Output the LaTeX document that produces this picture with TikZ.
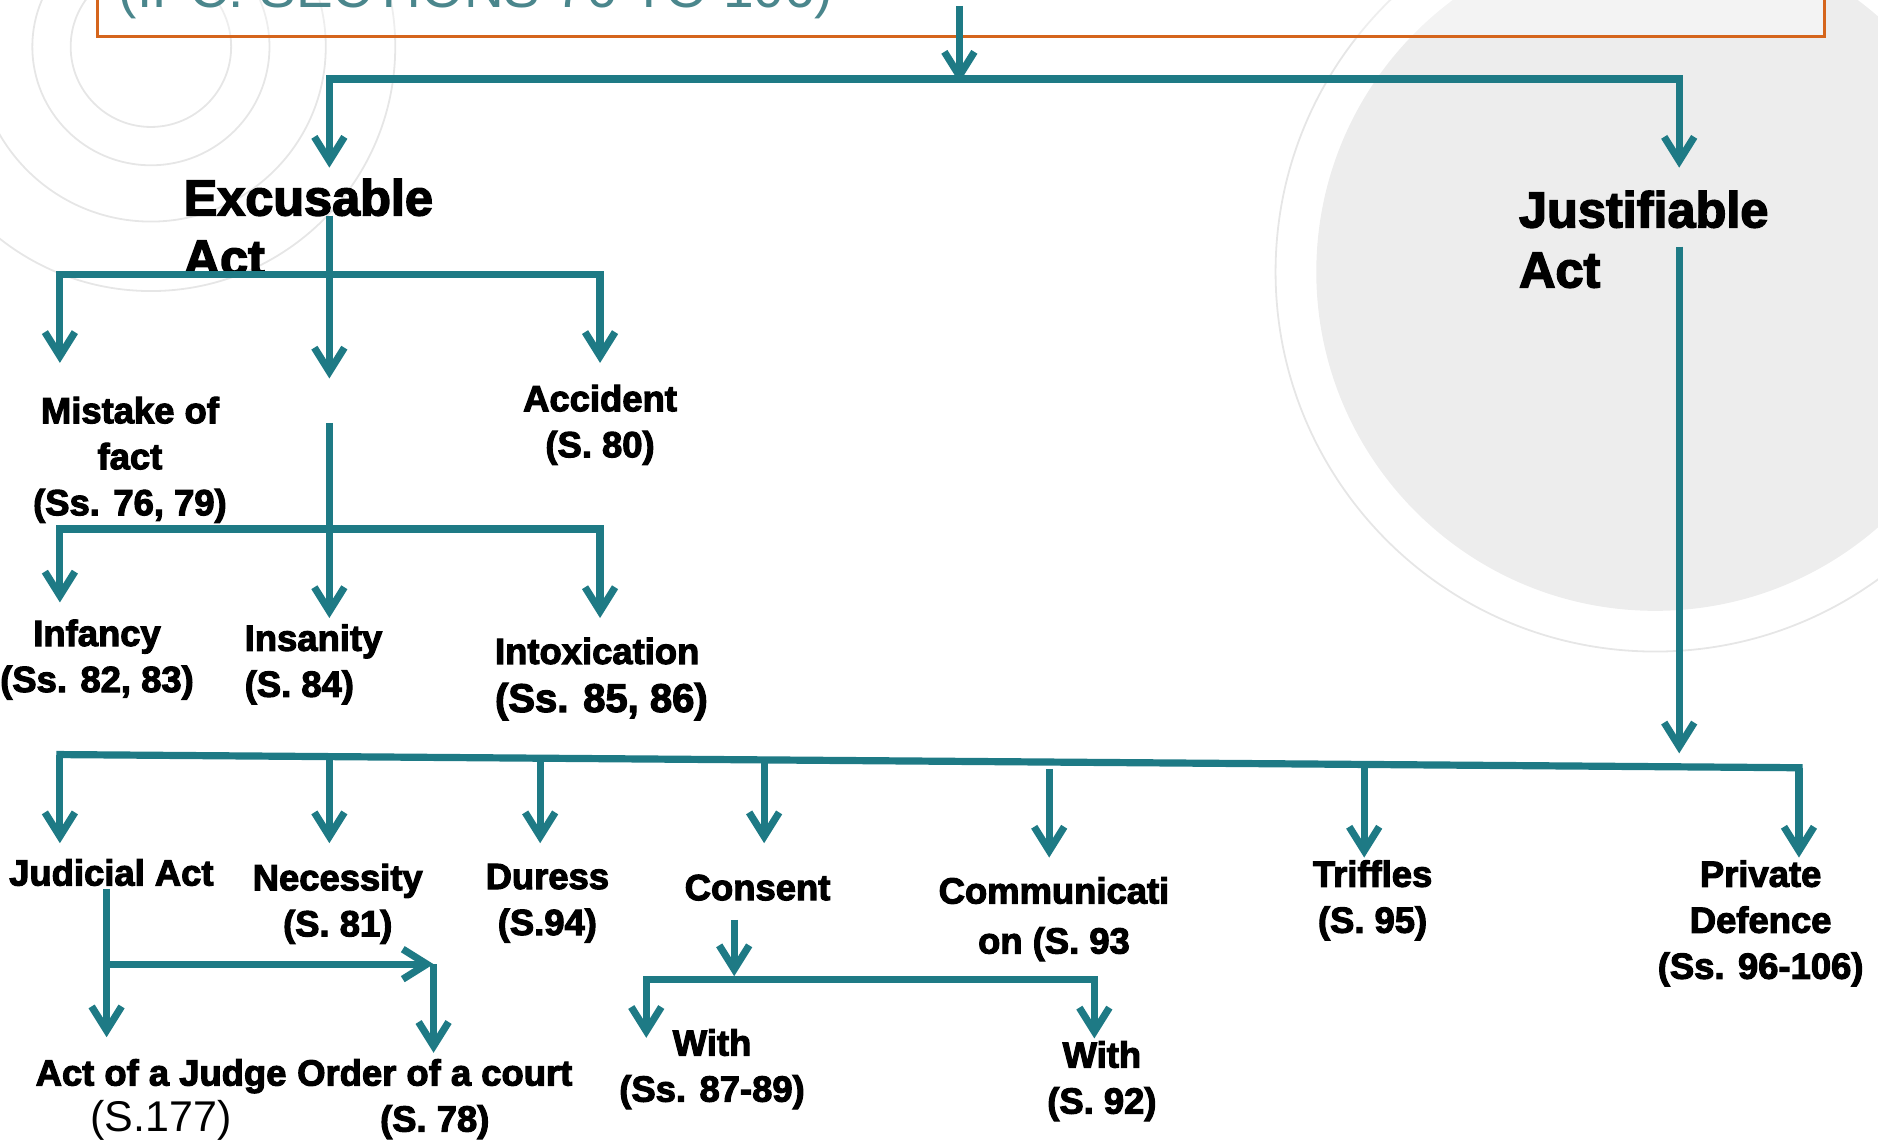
\documentclass[tikz,border=0pt]{standalone}
\usepackage{fontspec}
\setmainfont{Liberation Sans}
\newfontfamily\heavyfont{Liberation Sans Bold}[FakeBold=3]
\usetikzlibrary{arrows.meta,positioning}

\definecolor{lawteal}{RGB}{30,122,133}
\definecolor{laworange}{RGB}{213,101,28}
\definecolor{titlegray}{RGB}{74,134,140}
\definecolor{ringgray}{RGB}{230,230,230}
\definecolor{discgray}{RGB}{237,237,237}

\begin{document}
\begin{tikzpicture}[x=0.59885pt,y=-0.59885pt,
  link/.style={draw=lawteal,line width=3.6pt,-{Straight Barb[length=12pt,width=15pt]}},
  bar/.style={draw=lawteal,line width=3.6pt,line cap=rect},
  head/.style={font=\heavyfont\fontsize{25.2}{30}\selectfont,inner sep=0pt,
    align=left,anchor=north west},
  leaf/.style={font=\heavyfont\fontsize{18.2}{23}\selectfont,inner sep=0pt,
    align=center,anchor=north},
  ring/.style={draw=ringgray,line width=0.9pt}]
 \useasboundingbox (0,0) rectangle (1568,953);

 % background decoration
 \fill[discgray] (1382,227) circle[radius=283];
 \draw[ring] (1382,227) circle[radius=317];
 \draw[ring] (126,39) circle[radius=67];
 \draw[ring] (126,39) circle[radius=99];
 \draw[ring] (126,39) circle[radius=146];
 \draw[ring] (126,39) circle[radius=204];

 % title box
 \node[draw=laworange,line width=1.5pt,fill=white,fill opacity=0.35,
   minimum width=863.5pt,minimum height=90pt,inner sep=0pt,
   anchor=south west] (titlebox) at (80,31.7) {};
 \node[font=\fontsize{27.5}{33}\selectfont,text=titlegray,inner sep=0pt,
   anchor=base west] (title) at (99,6.5) {(IPC: SECTIONS 76 TO 106)};

 % the two kinds of acts
 \node[head] (excusable) at (153,149) {Excusable\\Act};
 \node[head] (justifiable) at (1268,159) {Justifiable\\Act};

 % excusable side
 \node[leaf] (mistake) at (108.5,331) {Mistake of\\fact\\(Ss. 76, 79)};
 \node[leaf] (accident) at (501,321) {Accident\\(S. 80)};
 \node[leaf] (infancy) at (81,517) {Infancy\\(Ss. 82, 83)};
 \node[leaf,align=left,anchor=north west] (insanity) at (204,521) {Insanity\\(S. 84)};
 \node[leaf,align=left,anchor=north west] (intoxication) at (413,532)
   {Intoxication\\[1pt]{\fontsize{20}{24}\selectfont(Ss. 85, 86)}};

 % general exceptions row
 \node[leaf] (judicial) at (93,717) {Judicial Act};
 \node[leaf] (necessity) at (282,721) {Necessity\\(S. 81)};
 \node[leaf] (duress) at (457,721) {Duress\\(S.94)};
 \node[leaf] (consent) at (632.5,730) {Consent};
 \node[leaf,font=\heavyfont\fontsize{18.2}{25}\selectfont] (communication) at (880,732)
   {Communicati\\on (S. 93};
 \node[leaf] (triffles) at (1146,718) {Triffles\\(S. 95)};
 \node[leaf] (private) at (1470,718) {Private\\Defence\\(Ss. 96-106)};

 \node[leaf] (judge) at (134.5,884)
   {Act of a Judge\\{\normalfont\fontsize{21.5}{23}\selectfont(S.177)}};
 \node[leaf] (court) at (363,884) {Order of a court\\(S. 78)};
 \node[leaf] (withfirst) at (594.5,859) {With\\(Ss. 87-89)};
 \node[leaf] (withsecond) at (920,869) {With\\(S. 92)};

 % junction points
 \coordinate (boxdrop) at (801,5);
 \coordinate (splittip) at (801,69);
 \coordinate (excbar) at (275,66);
 \coordinate (jusbar) at (1402,66);
 \coordinate (exctip) at (275,140);
 \coordinate (justip) at (1402,140);

 \coordinate (excroot) at (275,180);
 \coordinate (excgap) at (275,316);
 \coordinate (mistakebar) at (50,229);
 \coordinate (accidentbar) at (501,229);
 \coordinate (mistaketip) at (50,303);
 \coordinate (accidenttip) at (501,303);

 \coordinate (insroot) at (275,353);
 \coordinate (insanitytip) at (275,516);
 \coordinate (infancybar) at (50,441.7);
 \coordinate (intoxbar) at (501,441.7);
 \coordinate (infancytip) at (50,503);
 \coordinate (intoxtip) at (501,516);

 \coordinate (jusroot) at (1402,206);
 \coordinate (jusfoot) at (1402,629);

 \coordinate (judicialbar) at (50,630);
 \coordinate (necessitybar) at (275,631.7);
 \coordinate (duressbar) at (451,633);
 \coordinate (consentbar) at (638,634.5);
 \coordinate (commbar) at (876,642);
 \coordinate (trifflesbar) at (1139,638.3);
 \coordinate (privatebar) at (1502,641);
 \coordinate (judicialtip) at (50,704);
 \coordinate (necessitytip) at (275,704);
 \coordinate (duresstip) at (451,704);
 \coordinate (consenttip) at (638,704);
 \coordinate (commtip) at (876,716);
 \coordinate (trifflestip) at (1139,716);
 \coordinate (privatetip) at (1502,716);

 \coordinate (judroot) at (89,742);
 \coordinate (judjoin) at (89,805);
 \coordinate (judgetip) at (89,866);
 \coordinate (courtcorner) at (362,805);
 \coordinate (courttip) at (362,879);

 \coordinate (conroot) at (613,768);
 \coordinate (conjoin) at (613,815);
 \coordinate (withfirstbar) at (539.6,817.5);
 \coordinate (withsecondbar) at (913.7,817.5);
 \coordinate (withfirsttip) at (539.6,866.5);
 \coordinate (withsecondtip) at (913.7,867);

 % connectors
 \draw[link] (boxdrop) -- (splittip);
 \draw[bar] (excbar) -- (jusbar);
 \draw[link] (excbar) -- (exctip);
 \draw[link] (jusbar) -- (justip);

 \draw[link] (excroot) -- (excgap);
 \draw[bar] (mistakebar) -- (accidentbar);
 \draw[link] (mistakebar) -- (mistaketip);
 \draw[link] (accidentbar) -- (accidenttip);

 \draw[link] (insroot) -- (insanitytip);
 \draw[bar] (infancybar) -- (intoxbar);
 \draw[link] (infancybar) -- (infancytip);
 \draw[link] (intoxbar) -- (intoxtip);

 \draw[link] (jusroot) -- (jusfoot);
 \draw[bar] (judicialbar) -- (privatebar);
 \draw[link] (judicialbar) -- (judicialtip);
 \draw[link] (necessitybar) -- (necessitytip);
 \draw[link] (duressbar) -- (duresstip);
 \draw[link] (consentbar) -- (consenttip);
 \draw[link] (commbar) -- (commtip);
 \draw[link] (trifflesbar) -- (trifflestip);
 \draw[link] (privatebar) -- (privatetip);

 \draw[link] (judroot) -- (judgetip);
 \draw[link] (judjoin) -- (courtcorner);
 \draw[link] (courtcorner) -- (courttip);

 \draw[link] (conroot) -- (conjoin);
 \draw[bar] (withfirstbar) -- (withsecondbar);
 \draw[link] (withfirstbar) -- (withfirsttip);
 \draw[link] (withsecondbar) -- (withsecondtip);

\end{tikzpicture}
\end{document}
